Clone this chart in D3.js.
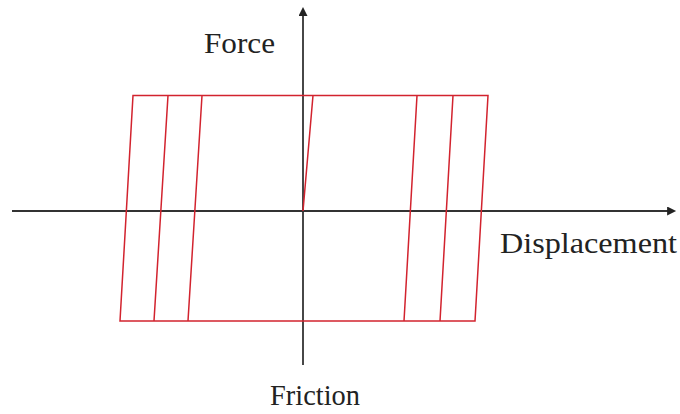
<!DOCTYPE html>
<html>
<head>
<meta charset="utf-8">
<script src="https://cdn.jsdelivr.net/npm/d3@7"></script>
<style>
  body { margin: 0; background: #fff; }
  svg { display: block; }
  .label { font-family: "Liberation Serif", "Times New Roman", serif; font-size: 29px; fill: #222; }
</style>
</head>
<body>
<div id="chart"></div>
<script>
// hysteresis path, visited in order (displacement, force)
const loopDisp = [0, 1.0, 18.5, 17.2, -18.3, -17.0, 15.0, 13.7, -14.9, -13.5, 11.4, 10.1, -11.5, -10.1];
const loopForce = [0, 1.05, 1.05, -1.0, -1.0, 1.05, 1.05, -1.0, -1.0, 1.05, 1.05, -1.0, -1.0, 1.05];

// axis extents in data units
const xAxisExtent = [-29.1, 36.5];
const yAxisExtent = [-1.4, 1.78];

const labels = { force: "Force", disp: "Displacement", friction: "Friction" };

const width = 680;
const height = 414;

const x = d3.scaleLinear().domain([-10, 10]).range([203, 403]);
const y = d3.scaleLinear().domain([-1, 1]).range([321, 101]);

const svg = d3
  .select("#chart")
  .append("svg")
  .attr("width", width)
  .attr("height", height);

const defs = svg.append("defs");
defs
  .append("marker")
  .attr("id", "arrow")
  .attr("viewBox", "0 0 10 10")
  .attr("refX", 1)
  .attr("refY", 5)
  .attr("markerWidth", 6)
  .attr("markerHeight", 5)
  .attr("markerUnits", "strokeWidth")
  .attr("orient", "auto")
  .append("path")
  .attr("d", "M0,0 L10,5 L0,10 Z")
  .attr("fill", "#222");

// axes
svg
  .append("line")
  .attr("x1", x(xAxisExtent[0]))
  .attr("x2", x(xAxisExtent[1]))
  .attr("y1", y(0))
  .attr("y2", y(0))
  .attr("stroke", "#333")
  .attr("stroke-width", 1.8)
  .attr("marker-end", "url(#arrow)");

svg
  .append("line")
  .attr("x1", x(0))
  .attr("x2", x(0))
  .attr("y1", y(yAxisExtent[0]))
  .attr("y2", y(yAxisExtent[1]))
  .attr("stroke", "#333")
  .attr("stroke-width", 1.8)
  .attr("marker-end", "url(#arrow)");

// hysteresis loop
const pts = loopDisp.map((d, i) => [d, loopForce[i]]);
svg
  .append("path")
  .datum(pts)
  .attr("fill", "none")
  .attr("stroke", "#d2232e")
  .attr("stroke-width", 1.5)
  .attr("stroke-linejoin", "miter")
  .attr("d", d3.line().x((d) => x(d[0])).y((d) => y(d[1])));

// labels
svg.append("text").attr("class", "label")
  .attr("x", 204).attr("y", 53)
  .attr("textLength", 71).attr("lengthAdjust", "spacingAndGlyphs")
  .text(labels.force);

svg.append("text").attr("class", "label")
  .attr("x", 500).attr("y", 253)
  .attr("textLength", 177).attr("lengthAdjust", "spacingAndGlyphs")
  .text(labels.disp);

svg.append("text").attr("class", "label")
  .attr("x", 270).attr("y", 405)
  .attr("textLength", 90).attr("lengthAdjust", "spacingAndGlyphs")
  .text(labels.friction);
</script>
</body>
</html>
